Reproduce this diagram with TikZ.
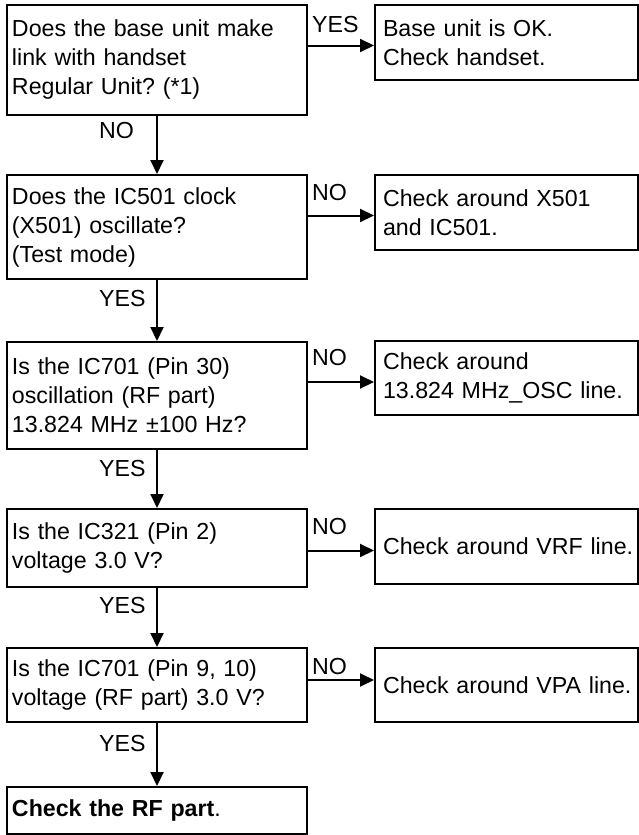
\documentclass[tikz,border=0pt]{standalone}
\usepackage{fontspec}
\setmainfont{Liberation Sans}
\frenchspacing
\usetikzlibrary{arrows.meta}

\begin{document}
\begin{tikzpicture}[x=1pt, y=-1pt,
    qbox/.style={draw, line width=2pt, minimum width=300pt, text width=290pt, inner xsep=5pt, align=left, font=\fontsize{23.2}{29}\selectfont},
    rbox/.style={draw, line width=2pt, minimum width=263pt, text width=247pt, inner xsep=8pt, align=left, font=\fontsize{23.2}{29}\selectfont},
    flow/.style={line width=2pt, -{Triangle[length=14pt, width=13pt]}},
    lbl/.style={inner sep=0pt, font=\fontsize{23.2}{29}\selectfont}]
        \useasboundingbox (0,0) rectangle (639,835);

        % Checks (left column)
        \node[qbox, minimum height=110pt] (q1) at (157,60) {Does the base unit make\\link with handset\\Regular Unit? (*1)};
        \node[qbox, minimum height=104pt] (q2) at (157,227) {Does the IC501 clock\\(X501) oscillate?\\(Test mode)};
        \node[qbox, minimum height=107pt] (q3) at (157,395.5) {Is the IC701 (Pin 30)\\oscillation (RF part)\\13.824 MHz ±100 Hz?};
        \node[qbox, minimum height=78pt] (q4) at (157,548) {Is the IC321 (Pin 2)\\voltage 3.0 V?};
        \node[qbox, minimum height=74pt] (q5) at (157,685) {Is the IC701 (Pin 9, 10)\\voltage (RF part) 3.0 V?};
        \node[qbox, minimum height=47pt] (q6) at (157,810.5) {\textbf{Check the RF part}.};

        % Remedies (right column)
        \node[rbox, minimum height=75pt] (r1) at (506.5,42.5) {Base unit is OK.\\Check handset.};
        \node[rbox, minimum height=75pt] (r2) at (506.5,212.5) {Check around X501\\and IC501.};
        \node[rbox, minimum height=74pt] (r3) at (506.5,378) {Check around\\13.824~MHz\_OSC~line.};
        \node[rbox, minimum height=75pt] (r4) at (506.5,546.5) {Check~around~VRF~line.};
        \node[rbox, minimum height=74pt] (r5) at (506.5,685) {Check~around~VPA~line.};

        % Down the column
        \draw[flow] (q1) -- (q2);
        \draw[flow] (q2) -- (q3);
        \draw[flow] (q3) -- (q4);
        \draw[flow] (q4) -- (q5);
        \draw[flow] (q5) -- (q6);

        % Across to the remedies
        \draw[flow] ([yshift=-3pt]q1.east |- r1.west) -- ([yshift=-3pt]r1.west);
        \draw[flow] ([yshift=-3pt]q2.east |- r2.west) -- ([yshift=-3pt]r2.west);
        \draw[flow] ([yshift=-4pt]q3.east |- r3.west) -- ([yshift=-4pt]r3.west);
        \draw[flow] ([yshift=-4pt]q4.east |- r4.west) -- ([yshift=-4pt]r4.west);
        \draw[flow] ([yshift=5pt]q5.east |- r5.west) -- ([yshift=5pt]r5.west);

        % Answers
        \node[lbl, anchor=base west] (a1) at ([xshift=4pt, yshift=-28pt]q1.north east) {YES};
        \node[lbl, anchor=base west] (a2) at ([xshift=4pt, yshift=-26pt]q2.north east) {NO};
        \node[lbl, anchor=base west] (a3) at ([xshift=4pt, yshift=-24pt]q3.north east) {NO};
        \node[lbl, anchor=base west] (a4) at ([xshift=4pt, yshift=-26pt]q4.north east) {NO};
        \node[lbl, anchor=base west] (a5) at ([xshift=4pt, yshift=-27pt]q5.north east) {NO};

        \node[lbl, anchor=base west] (b1) at ([xshift=-58pt, yshift=-22pt]q1.south) {NO};
        \node[lbl, anchor=base west] (b2) at ([xshift=-58pt, yshift=-26pt]q2.south) {YES};
        \node[lbl, anchor=base west] (b3) at ([xshift=-58pt, yshift=-26pt]q3.south) {YES};
        \node[lbl, anchor=base west] (b4) at ([xshift=-58pt, yshift=-25pt]q4.south) {YES};
        \node[lbl, anchor=base west] (b5) at ([xshift=-58pt, yshift=-28pt]q5.south) {YES};
    \end{tikzpicture}
\end{document}
